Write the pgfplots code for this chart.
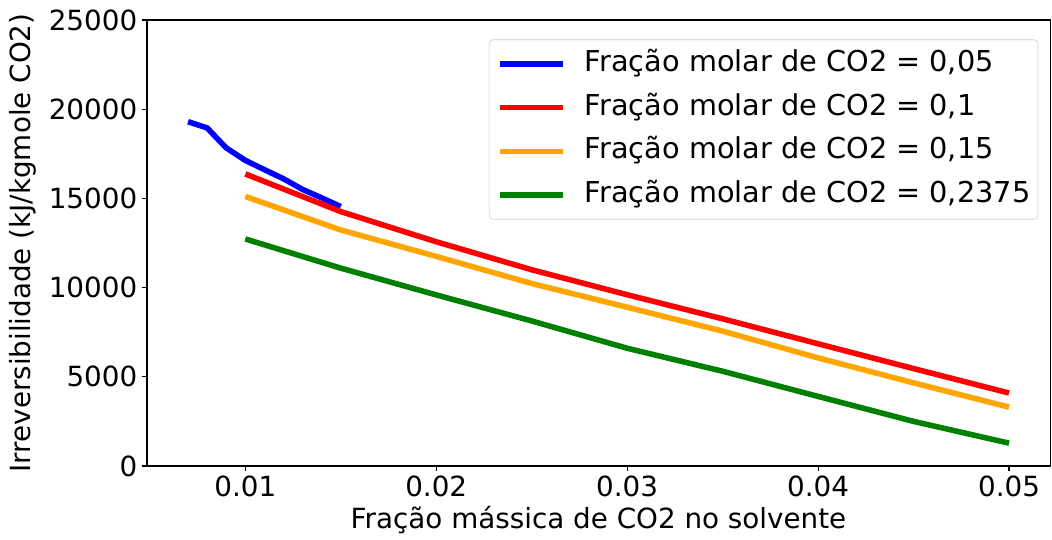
\documentclass[border=0pt]{standalone}
\usepackage{fontspec}
\setmainfont{DejaVu Sans}
\usepackage{pgfplots}
\pgfplotsset{compat=1.18}

\definecolor{mplblue}{RGB}{0,0,255}
\definecolor{mplred}{RGB}{255,0,0}
\definecolor{mplorange}{RGB}{255,165,0}
\definecolor{mplgreen}{RGB}{0,128,0}

\begin{document}
\begin{tikzpicture}
\begin{axis}[
  name=ax,
  scale only axis,
  width=650pt,height=321pt,
  xmin=0.00485,xmax=0.05215,
  ymin=0,ymax=25000,
  xtick={0.01,0.02,0.03,0.04,0.05},
  xticklabels={0.01,0.02,0.03,0.04,0.05},
  ytick={0,5000,10000,15000,20000,25000},
  yticklabels={0,5000,10000,15000,20000,25000},
  scaled x ticks=false,scaled y ticks=false,
  tick align=outside,major tick length=3.5pt,
  xtick pos=bottom,ytick pos=left,
  tick style={black,line width=0.8pt},
  axis line style={line width=0.8pt},
  /pgf/number format/assume math mode=true,
  tick label style={font=\fontsize{20}{24}\selectfont},
  label style={font=\fontsize{20}{24}\selectfont},
  xlabel={Fração mássica de CO2 no solvente},
  ylabel={Irreversibilidade (kJ/kgmole CO2)},
  xlabel style={yshift=0pt},
  ylabel style={yshift=2pt},
  legend cell align=left,
  legend style={at={(1,1)},anchor=north east,xshift=-8.5pt,yshift=-14pt,
    font=\fontsize{20.7}{24}\selectfont,draw=black!20,rounded corners=3pt,
    inner xsep=5.5pt,inner ysep=7pt,row sep=10.4pt,
    nodes={inner sep=0pt,text height=16pt,text depth=5pt}},
  legend image code/.code={\draw[#1,line width=4pt] (0pt,0pt) -- (46pt,0pt);
    \path (59.5pt,0pt);},
]
\addplot[mplblue,line width=4pt] coordinates {
  (0.007,19300)(0.008,18950)(0.009,17830)(0.010,17130)(0.011,16610)
  (0.012,16100)(0.013,15500)(0.014,15030)(0.015,14540)};
\addlegendentry{Fração molar de CO2 = 0,05}
\addplot[mplred,line width=4pt] coordinates {
  (0.010,16370)(0.015,14260)(0.020,12570)(0.025,11000)(0.030,9600)
  (0.035,8250)(0.040,6850)(0.045,5460)(0.050,4090)};
\addlegendentry{Fração molar de CO2 = 0,1}
\addplot[mplorange,line width=4pt] coordinates {
  (0.010,15110)(0.015,13230)(0.020,11750)(0.025,10230)(0.030,8900)
  (0.035,7560)(0.040,6060)(0.045,4660)(0.050,3300)};
\addlegendentry{Fração molar de CO2 = 0,15}
\addplot[mplgreen,line width=4pt] coordinates {
  (0.010,12725)(0.015,11090)(0.020,9590)(0.025,8130)(0.030,6600)
  (0.035,5310)(0.040,3900)(0.045,2500)(0.050,1280)};
\addlegendentry{Fração molar de CO2 = 0,2375}
\end{axis}
\pgfresetboundingbox
\path ([xshift=-105.8pt,yshift=14.4pt]ax.north west)
  rectangle ([xshift=1.4pt,yshift=-52.6pt]ax.south east);
\end{tikzpicture}
\end{document}
